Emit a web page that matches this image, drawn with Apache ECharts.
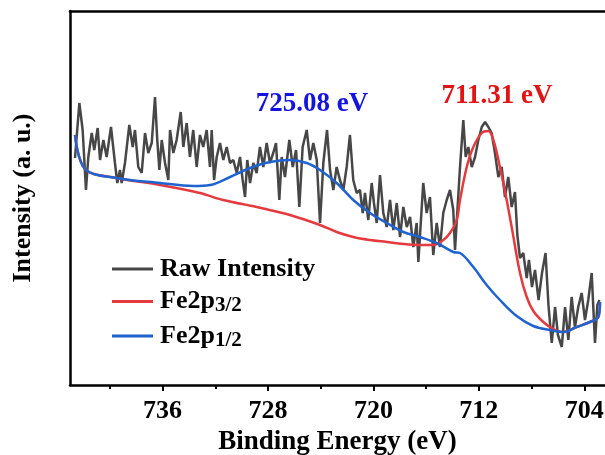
<!DOCTYPE html>
<html>
<head>
<meta charset="utf-8">
<script src="https://cdn.jsdelivr.net/npm/echarts@6/dist/echarts.min.js"></script>
<style>html,body{margin:0;padding:0;background:#fff;}#c{width:605px;height:455px;}</style>
</head>
<body>
<div id="c"></div>
<script>
// Binding energies (eV) and intensities (a.u.)
const rawEnergy = [742.64,742.31,742.06,741.81,741.63,741.37,741.18,740.92,740.74,740.49,740.24,739.91,739.61,739.43,739.23,739.10,738.85,738.52,738.26,738.09,737.84,737.58,737.33,737.08,736.82,736.57,736.40,736.24,736.06,735.81,735.56,735.43,735.18,734.93,734.62,734.42,734.17,733.92,733.67,733.41,733.16,732.91,732.65,732.40,732.27,732.09,731.89,731.64,731.39,731.13,730.88,730.63,730.37,730.12,729.92,729.74,729.57,729.36,729.11,728.86,728.61,728.35,728.10,727.85,727.60,727.39,727.14,726.96,726.71,726.38,726.12,725.87,725.62,725.37,725.06,724.81,724.56,724.30,724.05,723.80,723.52,723.29,723.04,722.79,722.54,722.28,722.03,721.78,721.53,721.27,721.02,720.81,720.64,720.39,720.13,719.96,719.75,719.50,719.25,718.99,718.74,718.49,718.23,717.98,717.73,717.47,717.22,716.97,716.72,716.59,716.22,715.96,715.71,715.46,715.20,714.95,714.70,714.44,714.19,713.94,713.81,713.58,713.43,713.18,713.00,712.80,712.54,712.29,712.04,711.78,711.53,711.28,711.03,710.78,710.52,710.27,710.02,709.77,709.51,709.26,709.08,708.88,708.63,708.37,708.20,707.97,707.74,707.47,707.21,706.94,706.72,706.47,706.22,706.00,705.71,705.46,705.21,704.96,704.71,704.46,704.20,703.95,703.70,703.44,703.19,703.01,702.85];
const rawIntensity = [227,282,255,195,228,252,235,257,225,245,228,258,222,202,215,202,222,260,238,255,218,212,252,232,242,288,245,215,245,222,205,255,232,245,273,238,262,228,255,218,250,238,255,218,255,205,228,242,225,238,222,225,212,228,205,188,225,202,222,212,238,218,242,222,232,242,185,228,208,245,218,235,178,238,255,225,242,225,162,222,255,215,195,218,205,195,218,250,205,192,195,172,192,165,202,182,162,210,172,158,185,155,182,148,178,158,168,138,162,123,202,172,188,130,162,138,172,185,195,175,135,185,218,265,228,238,218,228,245,258,263,258,252,232,208,218,188,208,178,193,150,127,132,107,125,98,115,85,112,132,80,42,78,50,38,78,45,88,58,78,92,65,85,112,42,80,85];

const p32Energy = [742.64,741.88,739.48,736.19,733.16,731.41,728.86,726.33,724.05,722.79,721.53,720.26,718.99,717.73,716.47,715.46,714.70,714.19,713.68,713.43,712.92,712.42,711.78,711.28,710.90,710.40,709.89,709.51,708.88,708.37,707.87,707.11,706.35,705.59,704.58,703.57,702.94,702.81];
const p32Intensity = [250,216,207,200,192,185,178,170,160,153,148,145,143,141,140,140,145,152,165,185,218,238,252,254,245,218,185,158,112,88,74,63,56,53,58,63,68,83];

const p12Energy = [742.64,741.88,739.48,736.19,733.67,732.40,730.88,729.36,727.85,726.33,725.06,724.05,722.79,721.53,720.26,718.99,717.73,716.47,715.20,713.94,713.43,712.42,711.41,710.40,709.13,707.87,706.60,705.59,704.58,703.57,702.94,702.81];
const p12Intensity = [250,216,207,202,199,200,208,217,223,225,222,215,202,185,172,162,153,148,142,133,132,118,100,85,69,59,55,53,58,63,68,83];

const majorTicks = [736,728,720,712,704];
const minorTicks = [740,732,724,716,708];
const seriesNames = ['Raw Intensity','Fe2p3/2','Fe2p1/2'];
const peakLabels = ['725.08 eV','711.31 eV'];

const zip = (a, b) => a.map((v, i) => [v, b[i]]);
const FONT = '"Liberation Serif","Times New Roman",serif';
const xMin = 702.43, xMax = 743.02;

const chart = echarts.init(document.getElementById('c'), null, {renderer: 'canvas'});
chart.setOption({
  animation: false,
  backgroundColor: '#fff',
  grid: {left: 70, right: 0, top: 11, bottom: 70, containLabel: false, outerBoundsMode: 'none'},
  xAxis: [
    {
      type: 'value', position: 'bottom', inverse: true, min: xMin, max: xMax,
      axisLine: {show: true, lineStyle: {color: '#000', width: 2.5}},
      axisTick: {show: true, customValues: majorTicks, length: 6, lineStyle: {color: '#000', width: 2}},
      axisLabel: {show: true, customValues: majorTicks, margin: 13, fontSize: 26, fontWeight: 'bold', fontFamily: FONT, color: '#000'},
      splitLine: {show: false},
      name: 'Binding Energy (eV)', nameLocation: 'middle', nameGap: 42,
      nameTextStyle: {fontSize: 27, fontWeight: 'bold', fontFamily: FONT, color: '#000'}
    },
    {
      type: 'value', position: 'bottom', inverse: true, min: xMin, max: xMax,
      axisLine: {show: false},
      axisTick: {show: true, customValues: minorTicks, length: 4, lineStyle: {color: '#000', width: 2}},
      axisLabel: {show: false},
      splitLine: {show: false}
    },
    {
      type: 'value', position: 'top', inverse: true, min: xMin, max: xMax,
      axisLine: {show: true, lineStyle: {color: '#000', width: 2.5}},
      axisTick: {show: false}, axisLabel: {show: false}, splitLine: {show: false}
    }
  ],
  yAxis: {
    type: 'value', min: 0, max: 374,
    axisLine: {show: true, lineStyle: {color: '#000', width: 2.5}},
    axisTick: {show: false}, axisLabel: {show: false}, splitLine: {show: false},
    name: 'Intensity (a. u.)', nameLocation: 'middle', nameGap: 34,
    nameTextStyle: {fontSize: 26, fontWeight: 'bold', fontFamily: FONT, color: '#000'}
  },
  legend: {
    orient: 'vertical', left: 107, top: 251, itemGap: 6.5,
    itemWidth: 41, itemHeight: 3, icon: 'rect',
    data: seriesNames,
    formatter: function (n) {
      if (n.indexOf('Fe2p') === 0) return '{a|Fe2p}{s|' + n.slice(4) + '}';
      return '{a|' + n + '}';
    },
    textStyle: {
      padding: [0, 0, 0, 2],
      rich: {
        a: {fontSize: 26, fontWeight: 'bold', fontFamily: FONT, color: '#000', lineHeight: 30},
        s: {fontSize: 21, fontWeight: 'bold', fontFamily: FONT, color: '#000', lineHeight: 17, verticalAlign: 'bottom'}
      }
    }
  },
  graphic: [
    {type: 'text', x: 312, y: 104, style: {text: peakLabels[0], fill: '#1414e0', font: 'bold 27px ' + FONT, align: 'center', verticalAlign: 'middle', textAlign: 'center', textVerticalAlign: 'middle'}},
    {type: 'text', x: 497, y: 96, style: {text: peakLabels[1], fill: '#e01414', font: 'bold 27px ' + FONT, align: 'center', verticalAlign: 'middle', textAlign: 'center', textVerticalAlign: 'middle'}}
  ],
  series: [
    {name: seriesNames[0], type: 'line', xAxisIndex: 0, data: zip(rawEnergy, rawIntensity), showSymbol: false, lineStyle: {color: '#474747', width: 2.5}, itemStyle: {color: '#474747'}},
    {name: seriesNames[1], type: 'line', xAxisIndex: 0, data: zip(p32Energy, p32Intensity), smooth: 0.35, showSymbol: false, lineStyle: {color: '#e53b3f', width: 2.5}, itemStyle: {color: '#e53b3f'}},
    {name: seriesNames[2], type: 'line', xAxisIndex: 0, data: zip(p12Energy, p12Intensity), smooth: 0.35, showSymbol: false, lineStyle: {color: '#1f63d0', width: 2.5}, itemStyle: {color: '#1f63d0'}}
  ]
});
</script>
</body>
</html>
